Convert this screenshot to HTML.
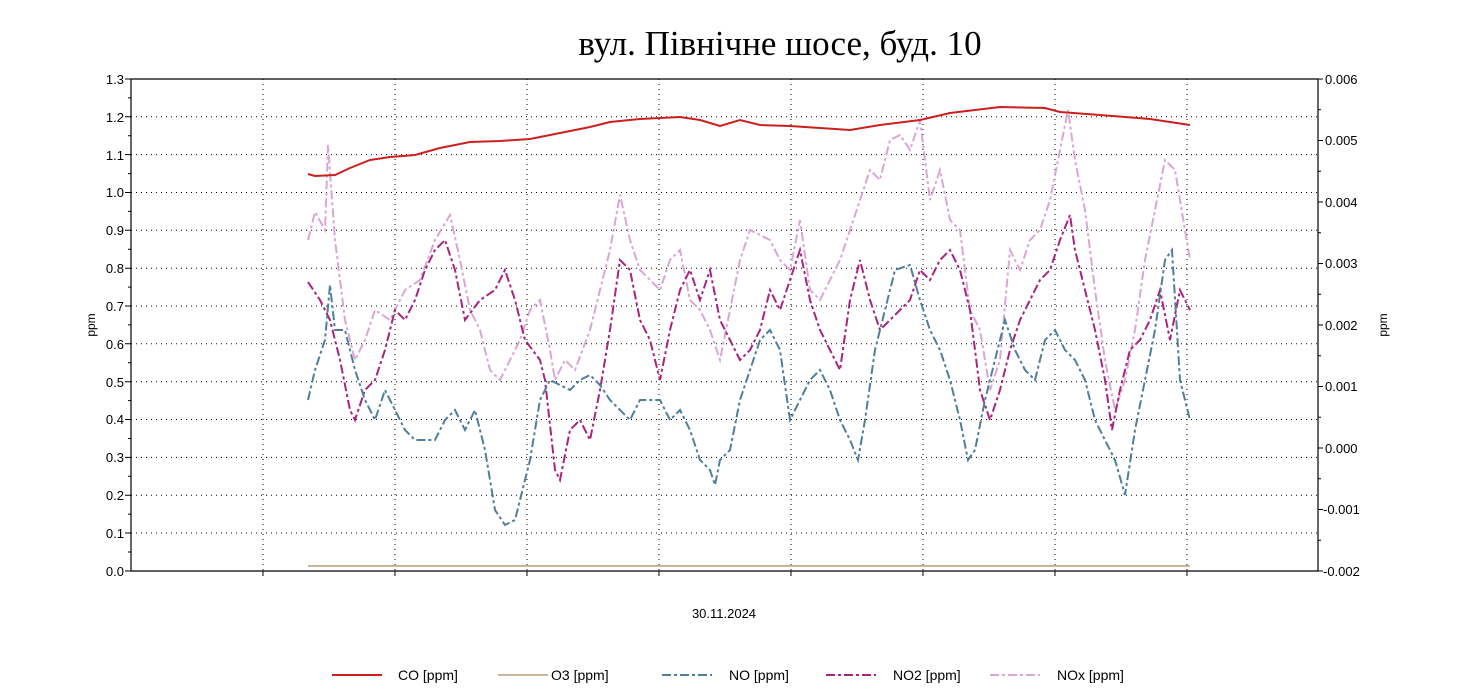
<!DOCTYPE html>
<html><head><meta charset="utf-8"><style>body{margin:0;background:#fff}svg{display:block}</style></head>
<body>
<svg width="1471" height="697" xmlns="http://www.w3.org/2000/svg" font-family="Liberation Sans, sans-serif" font-size="13">
<text x="780" y="55" font-family="Liberation Serif, serif" font-size="35" text-anchor="middle">вул. Північне шосе, буд. 10</text>
<g stroke="#000" stroke-width="1" stroke-dasharray="1,4">
<line x1="131" x2="1318" y1="116.8" y2="116.8"/><line x1="131" x2="1318" y1="154.6" y2="154.6"/><line x1="131" x2="1318" y1="192.5" y2="192.5"/><line x1="131" x2="1318" y1="230.3" y2="230.3"/><line x1="131" x2="1318" y1="268.2" y2="268.2"/><line x1="131" x2="1318" y1="306" y2="306"/><line x1="131" x2="1318" y1="343.8" y2="343.8"/><line x1="131" x2="1318" y1="381.7" y2="381.7"/><line x1="131" x2="1318" y1="419.5" y2="419.5"/><line x1="131" x2="1318" y1="457.4" y2="457.4"/><line x1="131" x2="1318" y1="495.2" y2="495.2"/><line x1="131" x2="1318" y1="533" y2="533"/>
<line x1="263" x2="263" y1="79" y2="570"/><line x1="395" x2="395" y1="79" y2="570"/><line x1="527" x2="527" y1="79" y2="570"/><line x1="659" x2="659" y1="79" y2="570"/><line x1="791" x2="791" y1="79" y2="570"/><line x1="923" x2="923" y1="79" y2="570"/><line x1="1055" x2="1055" y1="79" y2="570"/><line x1="1187" x2="1187" y1="79" y2="570"/>
</g>
<g stroke="#000" stroke-width="1.2" fill="none">
<polyline points="131,79 1318,79 1318,571 131,571 131,79"/>
</g>
<g stroke="#000" stroke-width="1">
<path d="M125,79h6M125,116.8h6M125,154.6h6M125,192.5h6M125,230.3h6M125,268.2h6M125,306h6M125,343.8h6M125,381.7h6M125,419.5h6M125,457.4h6M125,495.2h6M125,533h6M125,571h6"/>
<path d="M128,97.9h3M128,135.7h3M128,173.6h3M128,211.4h3M128,249.3h3M128,287.1h3M128,324.9h3M128,362.8h3M128,400.6h3M128,438.5h3M128,476.3h3M128,514.1h3M128,552h3"/>
<path d="M1318,79h5M1318,140.5h5M1318,202h5M1318,263.5h5M1318,325h5M1318,386.5h5M1318,448h5M1318,509.5h5M1318,571h5"/>
<path d="M1318,109.8h3M1318,171.3h3M1318,232.8h3M1318,294.3h3M1318,355.8h3M1318,417.3h3M1318,478.8h3M1318,540.3h3"/>
<path d="M263,571v5M395,571v5M527,571v5M659,571v5M791,571v5M923,571v5M1055,571v5M1187,571v5"/>
</g>
<g text-anchor="end" font-size="13">
<text x="124" y="84">1.3</text><text x="124" y="122">1.2</text><text x="124" y="160">1.1</text><text x="124" y="197">1.0</text><text x="124" y="235">0.9</text><text x="124" y="273">0.8</text><text x="124" y="311">0.7</text><text x="124" y="349">0.6</text><text x="124" y="387">0.5</text><text x="124" y="424">0.4</text><text x="124" y="462">0.3</text><text x="124" y="500">0.2</text><text x="124" y="538">0.1</text><text x="124" y="576">0.0</text>
</g>
<g font-size="13">
<text x="1325" y="84">0.006</text><text x="1325" y="145">0.005</text><text x="1325" y="207">0.004</text><text x="1325" y="268">0.003</text><text x="1325" y="330">0.002</text><text x="1325" y="391">0.001</text><text x="1325" y="453">0.000</text><text x="1323" y="514">-0.001</text><text x="1323" y="576">-0.002</text>
</g>
<text transform="translate(95,325) rotate(-90)" text-anchor="middle" font-size="12">ppm</text>
<text transform="translate(1387,325) rotate(-90)" text-anchor="middle" font-size="12">ppm</text>
<text x="724" y="618" text-anchor="middle" font-size="13">30.11.2024</text>
<line x1="308" x2="1190" y1="566" y2="566" stroke="#c8b497" stroke-width="2"/>
<polyline fill="none" stroke="#daa6d6" stroke-width="2" stroke-dasharray="9,3,3,3" points="308,240 315,212 325,230 328,145 335,240 345,320 355,360 365,340 375,310 390,320 405,290 420,280 435,240 450,215 460,260 470,310 480,330 490,370 500,380 510,360 520,340 530,310 540,300 550,350 555,380 565,360 575,370 590,330 600,290 610,250 620,195 630,240 640,270 650,280 660,290 670,260 680,250 690,300 700,310 710,330 720,360 730,310 740,260 750,230 760,235 770,240 780,260 790,270 800,220 810,290 820,300 830,280 840,260 850,230 860,200 870,170 880,180 890,140 900,135 910,150 920,120 930,200 940,170 950,220 960,230 970,310 980,330 990,390 1000,360 1010,250 1020,270 1030,240 1040,230 1050,200 1060,150 1068,110 1075,160 1085,210 1095,290 1105,360 1115,410 1125,380 1135,330 1145,260 1155,210 1165,160 1175,170 1185,230 1190,260"/>
<polyline fill="none" stroke="#a8247f" stroke-width="2" stroke-dasharray="9,3,3,3" points="308,282 320,300 330,320 340,360 350,410 355,420 365,390 375,380 385,350 395,310 405,320 415,300 425,270 435,250 445,240 455,270 465,320 480,300 495,290 505,270 515,300 525,340 540,360 545,380 555,470 560,480 570,430 580,420 590,440 600,390 610,330 620,260 630,270 640,320 650,340 660,380 670,330 680,290 690,270 700,300 710,270 720,320 730,340 740,360 750,350 760,330 770,290 780,310 790,280 800,250 810,300 820,330 830,350 840,370 850,300 860,260 870,300 880,330 890,320 900,310 910,300 920,270 930,280 940,260 950,250 960,270 970,310 980,390 990,420 1000,390 1010,350 1020,320 1030,300 1040,280 1050,270 1060,240 1070,215 1075,250 1085,290 1095,330 1105,380 1112,430 1120,390 1130,350 1140,340 1150,320 1160,290 1170,340 1180,290 1190,310"/>
<polyline fill="none" stroke="#4f7f9a" stroke-width="2" stroke-dasharray="9,3,3,3" points="308,400 315,370 325,340 330,285 335,330 345,330 355,370 365,400 375,420 385,390 395,410 405,430 415,440 425,440 435,440 445,420 455,410 465,430 475,410 485,450 495,510 505,525 515,520 520,500 530,460 540,400 550,380 560,385 570,390 580,380 590,375 600,385 610,400 620,410 630,420 640,400 650,400 660,400 670,420 680,410 690,430 700,460 710,470 715,485 720,460 730,450 740,400 750,370 760,340 770,330 780,350 790,420 800,400 810,380 820,370 830,390 840,420 850,440 858,460 865,420 875,350 885,310 895,270 910,265 920,300 930,330 940,350 950,380 960,420 968,460 975,450 985,400 995,360 1005,320 1015,350 1025,370 1035,380 1045,340 1055,330 1065,350 1075,360 1085,380 1095,420 1105,440 1115,460 1125,495 1135,430 1145,380 1155,330 1165,260 1172,250 1180,380 1190,420"/>
<polyline fill="none" stroke="#cc1f1f" stroke-width="2" points="308,174 315,176 335,175 350,168 370,160 390,157 415,155 440,148 470,142 500,141 530,139 560,133 590,127 610,122 640,119 680,117 700,120 720,126 740,120 760,125 790,126 820,128 850,130 880,125 920,120 950,113 1000,107 1045,108 1060,112 1100,115 1150,119 1190,125"/>
<g font-size="14">
<line x1="332" x2="382" y1="675" y2="675" stroke="#cc1f1f" stroke-width="2"/><text x="398" y="680">CO [ppm]</text>
<line x1="498" x2="548" y1="675" y2="675" stroke="#c8b497" stroke-width="2"/><text x="551" y="680">O3 [ppm]</text>
<line x1="662" x2="712" y1="675" y2="675" stroke="#4f7f9a" stroke-width="2" stroke-dasharray="9,3,3,3"/><text x="729" y="680">NO [ppm]</text>
<line x1="826" x2="876" y1="675" y2="675" stroke="#a8247f" stroke-width="2" stroke-dasharray="9,3,3,3"/><text x="893" y="680">NO2 [ppm]</text>
<line x1="990" x2="1040" y1="675" y2="675" stroke="#daa6d6" stroke-width="2" stroke-dasharray="9,3,3,3"/><text x="1057" y="680">NOx [ppm]</text>
</g>
</svg>
</body></html>
